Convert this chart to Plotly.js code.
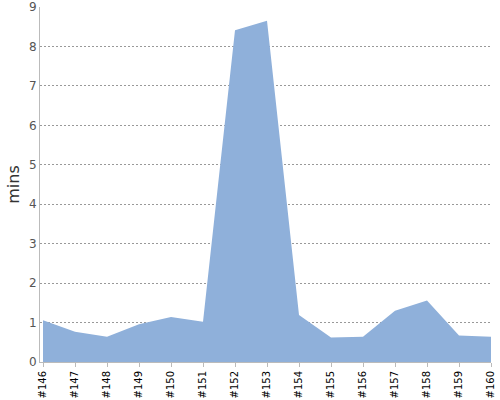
<!DOCTYPE html>
<html><head><meta charset="utf-8">
<script src="https://cdn.plot.ly/plotly-3.0.1.min.js"></script>
<style>html,body{margin:0;padding:0;background:#fff}</style>
</head><body><div id="chart" style="width:500px;height:400px"></div>
<script>
const builds = ["#146","#147","#148","#149","#150","#151","#152","#153","#154","#155","#156","#157","#158","#159","#160"];
const minutes = [1.06,0.77,0.64,0.96,1.14,1.02,8.41,8.65,1.19,0.62,0.64,1.30,1.56,0.67,0.64];
const yTicks = [0,1,2,3,4,5,6,7,8,9];

Plotly.newPlot("chart", [{
  type: "scatter", mode: "lines", x: builds, y: minutes,
  fill: "tozeroy", fillcolor: "#8fb0da",
  line: {width: 0, color: "#8fb0da"}, hoverinfo: "x+y"
}], {
  width: 500, height: 400,
  margin: {l: 40, r: 9, t: 7, b: 38},
  paper_bgcolor: "#fff", plot_bgcolor: "#fff",
  showlegend: false,
  font: {family: "DejaVu Sans, sans-serif"},
  xaxis: {
    type: "category", range: [-0.094, 14],
    tickangle: -90, tickfont: {size: 10, color: "#000"},
    showgrid: false, showline: true, linecolor: "#bbb", linewidth: 1,
    ticks: "outside", ticklen: 4, tickcolor: "#bbb",
    zeroline: false
  },
  yaxis: {
    range: [0, 9], tickvals: yTicks, ticktext: yTicks.map(String),
    tickfont: {size: 12, color: "#555"},
    showgrid: true, gridcolor: "#999", griddash: "2px,2px", gridwidth: 1,
    showline: true, linecolor: "#bbb", linewidth: 1,
    ticks: "", zeroline: false,
    title: {text: "mins", font: {size: 16, color: "#333"}, standoff: 5}
  }
}, {displayModeBar: false, staticPlot: true});
</script></body></html>
